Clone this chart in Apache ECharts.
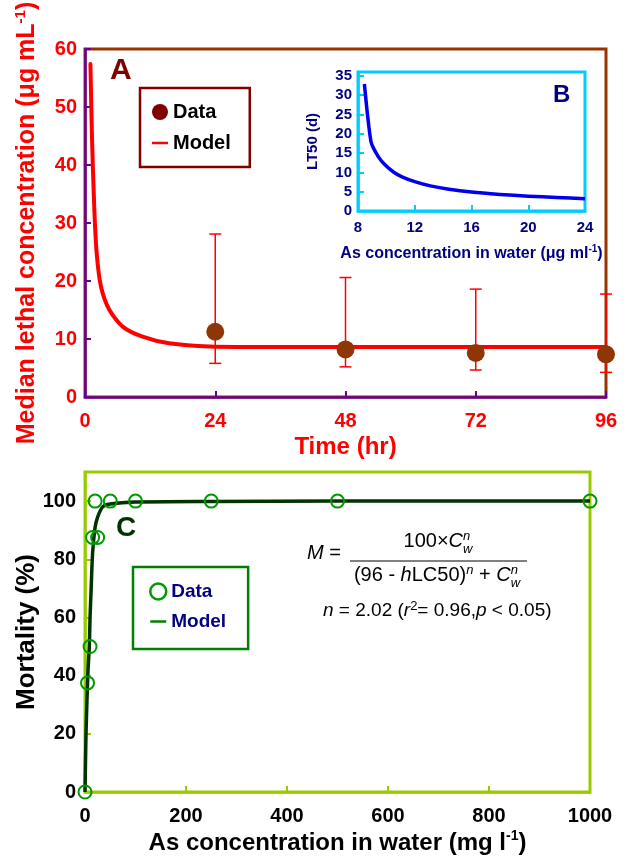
<!DOCTYPE html>
<html lang="en">
<head>
<meta charset="UTF-8">
<title>LC50 over time and mortality</title>
<style>
  * { margin: 0; padding: 0; box-sizing: border-box; }
  html, body { width: 100%; height: 100%; background: #fff; }
  #chart { width: 628px; height: 858px; }
</style>
</head>
<body>
<div id="chart"></div>
<script src="https://cdn.jsdelivr.net/npm/echarts@6/dist/echarts.min.js"></script>
<script>
// panel A - median lethal concentration against time
const timeTicks = [0, 24, 48, 72, 96];
const lcTicks = [0, 10, 20, 30, 40, 50, 60];
const timeHr = [24, 48, 72, 96];
const lc50 = [11.25, 8.2, 7.6, 7.35];
const lc50Low = [5.8, 5.2, 4.65, 4.25];
const lc50High = [28.1, 20.6, 18.6, 17.75];
const modelTime = [1, 1.3, 1.7, 2.15, 2.95, 4.5, 7, 10.6, 15.5, 23, 36, 60, 96];
const modelLc50 = [57.4, 44.3, 32.8, 24.8, 19, 15, 12.1, 10.4, 9.25, 8.7, 8.6, 8.6, 8.6];

// panel B (inset) - LT50 against concentration
const bConcTicks = [8, 12, 16, 20, 24];
const bLtTicks = [0, 5, 10, 15, 20, 25, 30, 35];
const bConc = [8.45, 8.92, 9.44, 9.92, 10.5, 11.1, 12, 13.1, 14.3, 16, 18, 20, 22, 24];
const bLt50 = [32.9, 17.9, 14.0, 11.9, 10.1, 8.84, 7.6, 6.5, 5.7, 4.9, 4.3, 3.85, 3.5, 3.2];

// panel C - mortality against concentration
const cConcTicks = [0, 200, 400, 600, 800, 1000];
const cMortTicks = [0, 20, 40, 60, 80, 100];
const cConc = [0, 5, 10, 15, 20, 25, 50, 100, 250, 500, 1000];
const cMort = [0, 37.5, 50, 87.5, 100, 87.5, 100, 100, 100, 100, 100];
const cModelConc = [0, 2, 4, 6, 8.5, 10, 12, 15, 20, 25, 35, 50, 100, 250, 500, 1000];
const cModelMort = [0, 20, 32, 42, 50, 60, 69, 82, 91, 94.5, 98, 99, 99.7, 99.9, 100, 100];

const FONT = 'Liberation Sans';
const CSSFONT = '"Liberation Sans", Arial, sans-serif';
const pairs = (xs, ys) => xs.map((x, i) => [x, ys[i]]);
const step = t => t[1] - t[0];

const chart = echarts.init(document.getElementById('chart'));

// small helper for the formula text pieces
const mctx = document.createElement('canvas').getContext('2d');
function textWidth(t, font) { mctx.font = font; return mctx.measureText(t).width; }
function pieceWidth(p) {
    const parts = p.stack || [p];
    return Math.max.apply(null, parts.map(q => textWidth(q.t, q.font)));
}
function placePieces(pieces, left, cy, out) {
    let x = left;
    pieces.forEach(p => {
        (p.stack || [p]).forEach(q => {
            out.push({
                type: 'text', x: x, y: cy + (q.dy || 0),
                style: { text: q.t, font: q.font, fill: '#000', textAlign: 'left', textVerticalAlign: 'middle', align: 'left', verticalAlign: 'middle' }
            });
        });
        x += pieceWidth(p);
    });
    return x;
}
function centerPieces(pieces, cx, cy, out) {
    const w = pieces.reduce((s, p) => s + pieceWidth(p), 0);
    placePieces(pieces, cx - w / 2, cy, out);
}

const reg = '20px ' + CSSFONT;
const ita = 'italic 20px ' + CSSFONT;
const small = 'italic 13px ' + CSSFONT;
const reg2 = '19px ' + CSSFONT;
const ita2 = 'italic 19px ' + CSSFONT;

const formula = [];
placePieces([{ t: 'M', font: ita }, { t: ' =', font: reg }], 307, 553, formula);
formula.push({ type: 'line', shape: { x1: 350, y1: 561, x2: 527, y2: 561 }, style: { stroke: '#000', lineWidth: 1 } });
centerPieces([
    { t: '100×', font: reg }, { t: 'C', font: ita },
    { stack: [{ t: 'n', font: small, dy: -5 }, { t: 'w', font: small, dy: 8 }] }
], 438, 541, formula);
centerPieces([
    { t: '(96 - ', font: reg }, { t: 'h', font: ita }, { t: 'LC50)', font: reg },
    { t: 'n', font: small, dy: -5 }, { t: ' + ', font: reg }, { t: 'C', font: ita },
    { stack: [{ t: 'n', font: small, dy: -5 }, { t: 'w', font: small, dy: 8 }] }
], 437, 575, formula);
placePieces([
    { t: 'n', font: ita2 }, { t: ' = 2.02 (', font: reg2 }, { t: 'r', font: ita2 },
    { t: '2', font: '13px ' + CSSFONT, dy: -5 }, { t: '= 0.96,', font: reg2 }, { t: 'p', font: ita2 },
    { t: ' < 0.05)', font: reg2 }
], 323, 611, formula);

function axisCommon(ticks, lineColor, tickColor, labelColor, labelSize, margin, hideAbove) {
    return {
        type: 'value',
        min: ticks[0],
        max: hideAbove || ticks[ticks.length - 1],
        interval: step(ticks),
        axisLine: { show: true, onZero: false, lineStyle: { color: lineColor, width: 2.5 } },
        axisTick: { show: true, inside: true, length: 6, lineStyle: { color: tickColor, width: 2 } },
        axisLabel: {
            color: labelColor, fontSize: labelSize, fontWeight: 'bold', fontFamily: FONT, margin: margin,
            formatter: v => (v > ticks[ticks.length - 1] ? '' : String(v))
        },
        splitLine: { show: false },
        nameLocation: 'middle',
        nameMoveOverlap: false
    };
}
function nameStyle(color, size) {
    return {
        color: color, fontSize: size, fontWeight: 'bold', fontFamily: FONT, lineHeight: size + 4,
        rich: { sup: { color: color, fontSize: Math.round(size * 0.6), fontWeight: 'bold', fontFamily: FONT, verticalAlign: 'top', lineHeight: size + 4 } }
    };
}

const option = {
    animation: false,
    backgroundColor: '#fff',
    textStyle: { fontFamily: FONT },
    grid: [
        { left: 85, top: 49, width: 521, height: 348, show: true, borderColor: '#993300', borderWidth: 3, containLabel: false, outerBoundsMode: 'none' },
        { left: 358, top: 72, width: 227, height: 139, show: true, borderColor: '#00ccff', borderWidth: 3, containLabel: false, outerBoundsMode: 'none' },
        { left: 85, top: 472, width: 505, height: 320, show: true, borderColor: '#99cc00', borderWidth: 3, containLabel: false, outerBoundsMode: 'none' }
    ],
    xAxis: [
        Object.assign(axisCommon(timeTicks, '#660099', '#660099', '#ff0000', 20, 14), {
            gridIndex: 0, name: 'Time (hr)', nameGap: 36, nameTextStyle: nameStyle('#ff0000', 24)
        }),
        Object.assign(axisCommon(bConcTicks, '#00ccff', '#00ccff', '#000080', 15, 9), {
            gridIndex: 1, name: 'As concentration in water (μg ml{sup|-1})', nameGap: 33, nameTextStyle: nameStyle('#000080', 16)
        }),
        Object.assign(axisCommon(cConcTicks, '#99cc00', '#99cc00', '#000', 20, 14), {
            gridIndex: 2, name: 'As concentration in water (mg l{sup|-1})', nameGap: 37, nameTextStyle: nameStyle('#000', 24)
        })
    ],
    yAxis: [
        Object.assign(axisCommon(lcTicks, '#660099', '#660099', '#ff0000', 20, 8), {
            gridIndex: 0, name: 'Median lethal concentration (μg mL{sup|-1})', nameGap: 43, nameRotate: 90, nameTextStyle: nameStyle('#ff0000', 25)
        }),
        Object.assign(axisCommon(bLtTicks, '#00ccff', '#00ccff', '#000080', 15, 6, 36), {
            gridIndex: 1, name: 'LT50 (d)', nameGap: 36, nameRotate: 90, nameTextStyle: nameStyle('#000080', 15)
        }),
        Object.assign(axisCommon(cMortTicks, '#99cc00', '#99cc00', '#000', 20, 9, 110), {
            gridIndex: 2, name: 'Mortality (%)', nameGap: 43, nameRotate: 90, nameTextStyle: nameStyle('#000', 26)
        })
    ],
    legend: [
        {
            left: 140, top: 88, orient: 'vertical', itemWidth: 16, itemHeight: 16, itemGap: 11,
            padding: [14, 19, 14, 12], borderColor: '#800000', borderWidth: 2.5, selectedMode: false,
            textStyle: { color: '#000', fontSize: 20, fontWeight: 'bold', fontFamily: FONT },
            formatter: n => (n === 'dataA' ? 'Data' : 'Model'),
            data: [
                { name: 'dataA', icon: 'circle', itemStyle: { color: '#800000' } },
                { name: 'modelA', icon: 'path://M0,7h16v2.5h-16z', itemStyle: { color: '#ff0000' } }
            ]
        },
        {
            left: 133, top: 567, orient: 'vertical', itemWidth: 16, itemHeight: 16, itemGap: 11,
            padding: [15, 22, 18, 16], borderColor: '#008000', borderWidth: 2.5, selectedMode: false,
            textStyle: { color: '#000080', fontSize: 19, fontWeight: 'bold', fontFamily: FONT },
            formatter: n => (n === 'dataC' ? 'Data' : 'Model'),
            data: [
                { name: 'dataC', icon: 'circle', itemStyle: { color: '#fff', borderColor: '#009900', borderWidth: 2.5 } },
                { name: 'modelC', icon: 'path://M0,7h16v2.5h-16z', itemStyle: { color: '#008000' } }
            ]
        }
    ],
    graphic: [
        { type: 'text', x: 110, y: 71, style: { text: 'A', font: 'bold 30px ' + CSSFONT, fill: '#800000', textVerticalAlign: 'middle', verticalAlign: 'middle' } },
        { type: 'text', x: 553, y: 95, style: { text: 'B', font: 'bold 24px ' + CSSFONT, fill: '#000080', textVerticalAlign: 'middle', verticalAlign: 'middle' } },
        { type: 'text', x: 116, y: 528, style: { text: 'C', font: 'bold 28px ' + CSSFONT, fill: '#003300', textVerticalAlign: 'middle', verticalAlign: 'middle' } },
        { type: 'group', children: formula }
    ],
    series: [
        {
            name: 'modelA', type: 'line', xAxisIndex: 0, yAxisIndex: 0,
            data: pairs(modelTime, modelLc50), smooth: 0.25,
            showSymbol: false, lineStyle: { color: '#ff0000', width: 4, join: 'round', cap: 'round' }, itemStyle: { color: '#ff0000' }, z: 2
        },
        {
            name: 'errA', type: 'custom', xAxisIndex: 0, yAxisIndex: 0,
            data: timeHr.map((t, i) => [t, lc50Low[i], lc50High[i]]),
            encode: { x: 0, y: [1, 2] }, z: 3,
            renderItem: function (params, api) {
                const x = api.value(0);
                const lo = api.coord([x, api.value(1)]);
                const hi = api.coord([x, api.value(2)]);
                const cap = 6;
                const st = { stroke: '#ff0000', lineWidth: 1.5 };
                return {
                    type: 'group', children: [
                        { type: 'line', shape: { x1: lo[0], y1: lo[1], x2: hi[0], y2: hi[1] }, style: st },
                        { type: 'line', shape: { x1: lo[0] - cap, y1: lo[1], x2: lo[0] + cap, y2: lo[1] }, style: st },
                        { type: 'line', shape: { x1: hi[0] - cap, y1: hi[1], x2: hi[0] + cap, y2: hi[1] }, style: st }
                    ]
                };
            }
        },
        {
            name: 'dataA', type: 'scatter', xAxisIndex: 0, yAxisIndex: 0,
            data: pairs(timeHr, lc50), symbol: 'circle', symbolSize: 18,
            itemStyle: { color: '#8f3606', opacity: 1 }, z: 4
        },
        {
            name: 'modelB', type: 'line', xAxisIndex: 1, yAxisIndex: 1,
            data: pairs(bConc, bLt50), smooth: 0.2,
            showSymbol: false, lineStyle: { color: '#0000ee', width: 3.5, join: 'round' }, z: 3
        },
        {
            name: 'modelC', type: 'line', xAxisIndex: 2, yAxisIndex: 2,
            data: pairs(cModelConc, cModelMort), smooth: 0.25,
            showSymbol: false, lineStyle: { color: '#003300', width: 3.5, join: 'round' }, itemStyle: { color: '#008000' }, z: 2
        },
        {
            name: 'dataC', type: 'scatter', xAxisIndex: 2, yAxisIndex: 2,
            data: pairs(cConc, cMort), symbol: 'circle', symbolSize: 13,
            itemStyle: { color: 'rgba(255,255,255,0)', borderColor: '#009900', borderWidth: 2, opacity: 1 }, z: 4
        }
    ]
};
chart.setOption(option);
</script>
</body>
</html>
